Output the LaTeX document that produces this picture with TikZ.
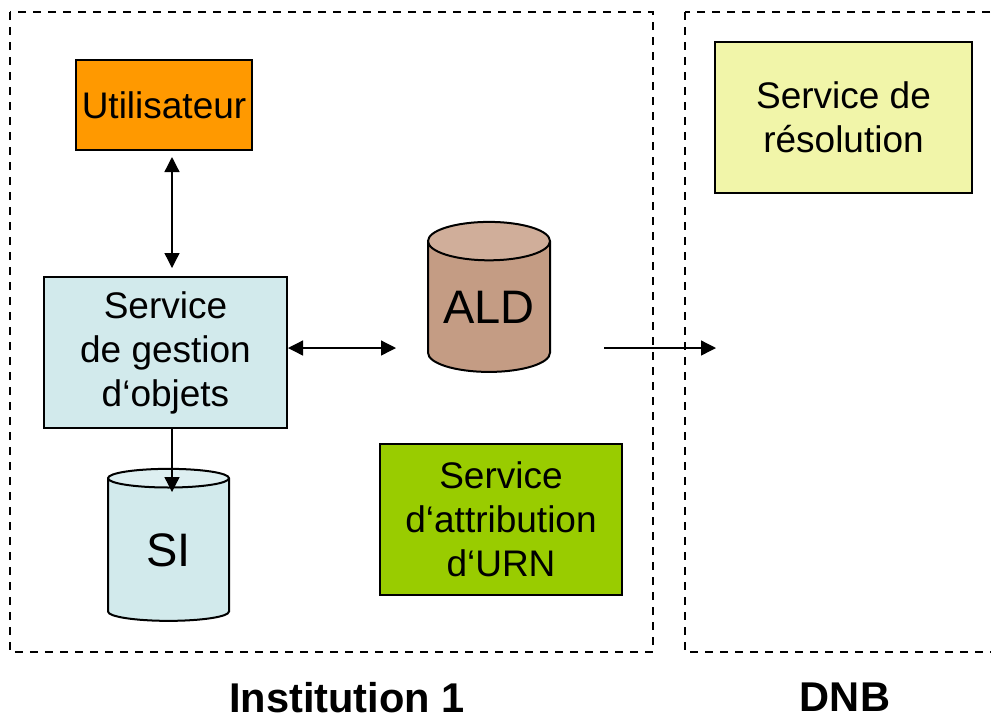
\documentclass[tikz,border=0pt]{standalone}
\usepackage{fontspec}
\setmainfont{Liberation Sans}
\usetikzlibrary{arrows.meta, positioning, shapes.geometric}

\definecolor{userorange}{HTML}{FF9900}
\definecolor{gestblue}{HTML}{D2EAEC}
\definecolor{sitop}{HTML}{DDEFF1}
\definecolor{aldbody}{HTML}{C49C84}
\definecolor{aldtop}{HTML}{D0AE9A}
\definecolor{urngreen}{HTML}{99CC00}
\definecolor{resyellow}{HTML}{F1F5A9}

\tikzset{
  box/.style={draw, line width=1pt, align=center, inner sep=0pt,
    font=\fontsize{18.5}{22}\selectfont},
  store/.style={cylinder, shape border rotate=90, draw, line width=1pt,
    aspect=0.42, inner sep=0pt, cylinder uses custom fill,
    font=\fontsize{23.5}{28}\selectfont},
  conn/.style={line width=0.65pt, -{Triangle[length=7.5pt,width=7.5pt]}},
  twoway/.style={line width=0.65pt,
    {Triangle[length=7.5pt,width=7.5pt]}-{Triangle[length=7.5pt,width=7.5pt]}},
  frame/.style={dash pattern=on 4pt off 3.5pt, line width=0.6pt},
  caption/.style={font=\fontsize{20.8}{24}\selectfont\bfseries, anchor=base, inner sep=0pt}
}

\begin{document}
\begin{tikzpicture}[x=0.5pt,y=-0.5pt]
\useasboundingbox (0,0) rectangle (991,720);
\clip (0,0) rectangle (991,720);
%frames
\draw[frame] (10,12) rectangle (653,652);
\draw[frame] (685,12) rectangle (1000,652);
\node[caption] (inst) at (347,712) {Institution 1};
\node[caption] (dnb) at (845,711) {DNB};
%boxes
\node[box, fill=userorange, minimum width=88pt, minimum height=45pt] (user) at (164,105) {Utilisateur};
\node[box, fill=gestblue, minimum width=121.5pt, minimum height=75.5pt] (gest) at (165.5,352.5) {Service\\de gestion\\d‘objets};
\node[box, fill=urngreen, minimum width=121pt, minimum height=75.5pt] (urn) at (501,519.5) {Service\\d‘attribution\\d‘URN};
\node[box, fill=resyellow, minimum width=128.5pt, minimum height=75.5pt] (res) at (843.5,117.5) {Service de\\résolution};
%databases
\node[store, cylinder body fill=aldbody, cylinder end fill=aldtop, minimum width=61pt, minimum height=75pt] (ald) at (489,307) {ALD};
\node[store, cylinder body fill=gestblue, cylinder end fill=sitop, minimum width=60.5pt, minimum height=76pt] (si) at (168.5,550) {SI};
%arrows
\coordinate (userout) at (172,157);
\coordinate (gestin) at (172,268);
\coordinate (aldin) at (396,348);
\coordinate (aldout) at (604,348);
\coordinate (dnbin) at (716,348);
\coordinate (gestout) at (172,428);
\coordinate (siin) at (172,492);
\draw[twoway] (userout) -- (gestin);
\draw[twoway] (gest.east |- aldin) -- (aldin);
\draw[conn] (aldout) -- (dnbin);
\draw[conn] (gestout) -- (siin);
\end{tikzpicture}
\end{document}
